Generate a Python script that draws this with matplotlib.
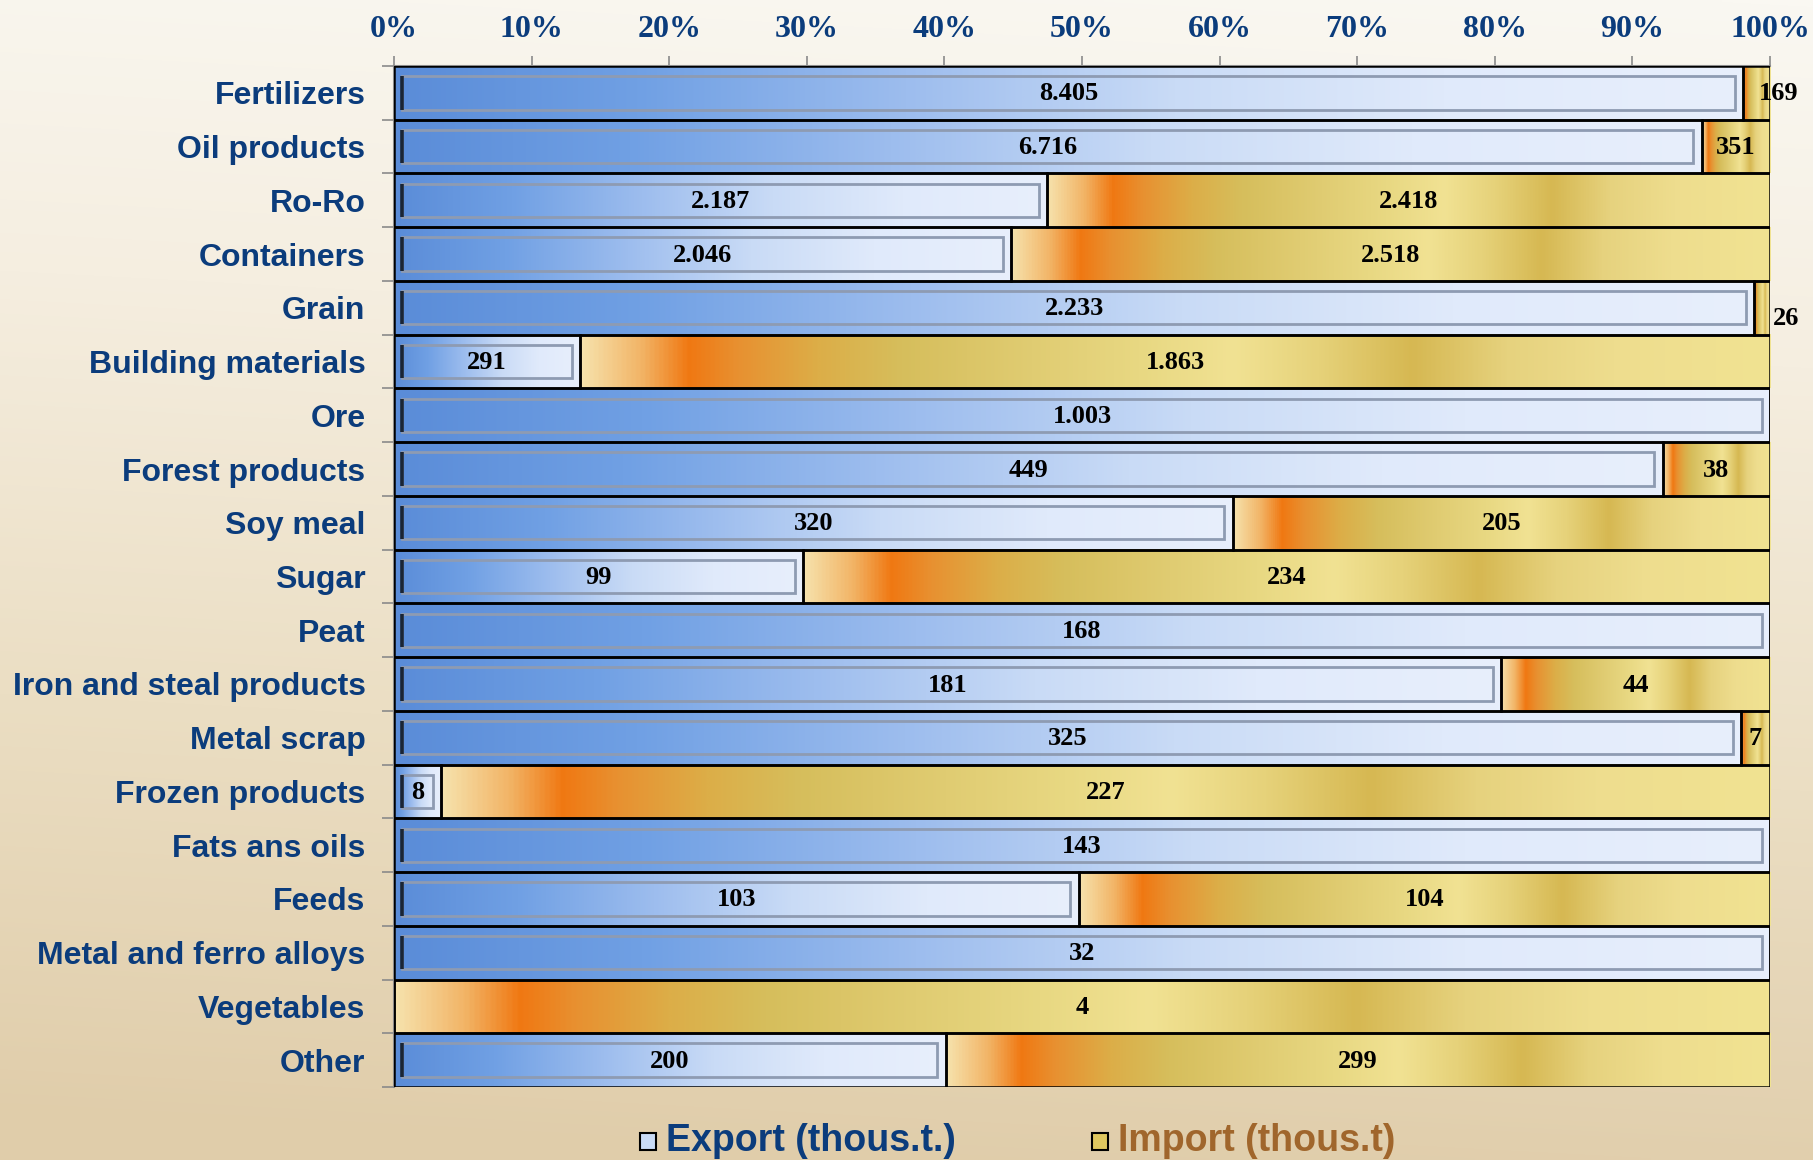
import numpy as np
import matplotlib
matplotlib.use("Agg")
import matplotlib.pyplot as plt
from matplotlib.colors import LinearSegmentedColormap
from matplotlib.patches import Rectangle

# ---------------- data ----------------
categories = ["Fertilizers", "Oil products", "Ro-Ro", "Containers", "Grain",
              "Building materials", "Ore", "Forest products", "Soy meal", "Sugar",
              "Peat", "Iron and steal products", "Metal scrap", "Frozen products",
              "Fats ans oils", "Feeds", "Metal and ferro alloys", "Vegetables", "Other"]
export_vals = [8405, 6716, 2187, 2046, 2233, 291, 1003, 449, 320, 99,
               168, 181, 325, 8, 143, 103, 32, 0, 200]
import_vals = [169, 351, 2418, 2518, 26, 1863, 0, 38, 205, 234,
               0, 44, 7, 227, 0, 104, 0, 4, 299]
tick_values = [0, 10, 20, 30, 40, 50, 60, 70, 80, 90, 100]
tick_labels = ["0%", "10%", "20%", "30%", "40%", "50%", "60%", "70%", "80%", "90%", "100%"]
legend_labels = ["Export (thous.t.)", "Import (thous.t)"]

# ---------------- styles ----------------
NAVY = "#0b3c7c"
BROWN = "#a0662c"
SERIF = ["Liberation Serif", "DejaVu Serif"]
SANS = ["Liberation Sans", "DejaVu Sans"]

exp_cmap = LinearSegmentedColormap.from_list("exp", [
    (0.00, "#5a8cd8"), (0.18, "#70a0e4"), (0.38, "#9dbdee"),
    (0.58, "#c9dbf6"), (0.78, "#e0eafb"), (1.00, "#e8effc")])
imp_cmap = LinearSegmentedColormap.from_list("imp", [
    (0.00, "#f6e2ac"), (0.05, "#f2b466"), (0.09, "#f07812"), (0.13, "#e89030"),
    (0.20, "#dcae48"), (0.27, "#d6be5c"), (0.38, "#e0cc72"), (0.47, "#e8d882"),
    (0.55, "#f1e293"), (0.62, "#e6d27a"), (0.70, "#d6b852"), (0.78, "#e6d27e"),
    (0.87, "#eedd8e"), (1.00, "#f1e392")])

def fmt(v):
    return f"{v:,}".replace(",", ".")

W, H = 1813, 1160
fig = plt.figure(figsize=(W / 100, H / 100), dpi=100)

# background (sandy gradient)
bg = fig.add_axes([0, 0, 1, 1], zorder=-5)
bg_cmap = LinearSegmentedColormap.from_list("bg", [
    (0.0, "#faf8f2"), (0.3, "#f5eee0"), (0.65, "#ebdec3"), (1.0, "#e0cdaa")])
yy = np.linspace(0, 1, 300)[:, None]
xx = np.linspace(0, 1, 300)[None, :]
bgimg = np.clip(yy * 0.95 + (1 - xx) * 0.08, 0, 1)
bg.imshow(bgimg, cmap=bg_cmap, vmin=0, vmax=1, aspect="auto",
          extent=[0, 1, 1, 0], interpolation="bilinear")
bg.set_axis_off()

ax = fig.add_axes([394 / W, 1 - 1087 / H, (1770 - 394) / W, (1087 - 66) / H])
ax.patch.set_alpha(0)

n = len(categories)
ypos = np.arange(n)
tot = np.array(export_vals, float) + np.array(import_vals, float)
exp_pct = np.array(export_vals) / tot * 100
imp_pct = np.array(import_vals) / tot * 100
grad = np.linspace(0, 1, 512)[None, :]

# gradient fills
for i in range(n):
    e, m = exp_pct[i], imp_pct[i]
    if e > 0:
        ax.imshow(grad, cmap=exp_cmap, aspect="auto", interpolation="bilinear",
                  extent=[0, e, i + 0.5, i - 0.5], zorder=1)
    if m > 0:
        ax.imshow(grad, cmap=imp_cmap, aspect="auto", interpolation="bilinear",
                  extent=[e, e + m, i + 0.5, i - 0.5], zorder=1)

# bars (outlines) through barh
ax.barh(ypos, exp_pct, height=1.0, facecolor="none", edgecolor="black",
        linewidth=1.8, zorder=3)
ax.barh(ypos, imp_pct, left=exp_pct, height=1.0, facecolor="none",
        edgecolor="black", linewidth=1.8, zorder=3)

# bevel frames on export bars
dx, dy = 0.6, 0.19
for i in range(n):
    e = exp_pct[i]
    if e <= 0:
        continue
    x0, x1 = dx, e - dx
    y0, y1 = i - 0.5 + dy, i + 0.5 - dy
    ax.add_patch(Rectangle((x0, y0), x1 - x0, y1 - y0, facecolor="none",
                           edgecolor="#8e9bb2", linewidth=2.0, zorder=2))
    ax.plot([x0, x0], [y0, y1], color="#1a2535", linewidth=2.6, zorder=2.5,
            solid_capstyle="butt")

# value labels
nudges = {(0, "imp"): (100.6, 0.0), (4, "imp"): (101.2, 0.17)}
for i in range(n):
    e, m = exp_pct[i], imp_pct[i]
    if export_vals[i] > 0:
        ax.text(e / 2, i + 0.02, fmt(export_vals[i]), ha="center", va="center",
                family=SERIF, weight="bold", fontsize=19, color="black", zorder=5)
    if import_vals[i] > 0:
        x, yoff = e + m / 2, 0.0
        if (i, "imp") in nudges:
            x, yoff = nudges[(i, "imp")]
        ax.text(x, i + 0.02 + yoff, fmt(import_vals[i]), ha="center", va="center",
                family=SERIF, weight="bold", fontsize=19, color="black",
                zorder=5, clip_on=False)

ax.set_xlim(0, 100)
ax.set_ylim(n - 0.5, -0.5)

ax.xaxis.tick_top()
ax.set_xticks(tick_values)
ax.set_xticklabels(tick_labels, family=SERIF, weight="bold", fontsize=23, color=NAVY)
ax.tick_params(axis="x", which="major", direction="out", length=7, width=1.2,
               color="#8a8a8a", pad=9, top=True, bottom=False,
               labeltop=True, labelbottom=False)

ax.set_yticks(ypos)
ax.set_yticklabels(categories, family=SANS, weight="bold", fontsize=23, color=NAVY)
ax.set_yticks(np.arange(n + 1) - 0.5, minor=True)
ax.tick_params(axis="y", which="major", length=0, pad=20.5)
ax.tick_params(axis="y", which="minor", length=9, width=1.2, color="#8a8a8a",
               direction="out")

for side in ["right", "bottom"]:
    ax.spines[side].set_visible(False)
for side in ["left", "top"]:
    ax.spines[side].set_color("#8a8a8a")
    ax.spines[side].set_linewidth(1.5)

# legend (manual)
leg_y = 1 - 1141 / H
fig.patches.append(Rectangle((640 / W, 1 - 1150 / H), 16 / W, 17 / H,
                             transform=fig.transFigure, facecolor="#c9dbf6",
                             edgecolor="black", linewidth=1.5))
fig.text(666 / W, leg_y, legend_labels[0], family=SANS, weight="bold",
         fontsize=27, color=NAVY, ha="left", va="center")
fig.patches.append(Rectangle((1092 / W, 1 - 1150 / H), 16 / W, 17 / H,
                             transform=fig.transFigure, facecolor="#e0c860",
                             edgecolor="black", linewidth=1.5))
fig.text(1118 / W, leg_y, legend_labels[1], family=SANS, weight="bold",
         fontsize=27, color=BROWN, ha="left", va="center")

fig.savefig("out.png", dpi=100)
